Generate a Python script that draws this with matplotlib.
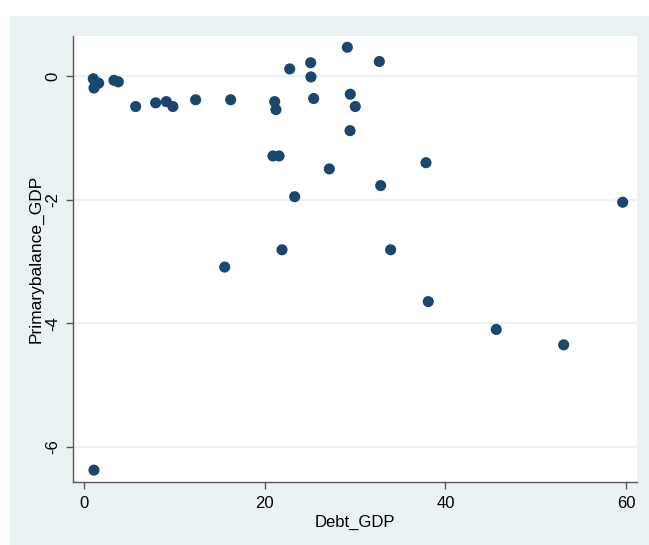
import numpy as np
import matplotlib
matplotlib.use("Agg")
import matplotlib.pyplot as plt
from matplotlib.patches import Rectangle

plt.rcParams['font.family'] = ['Liberation Sans', 'DejaVu Sans']
plt.rcParams['axes.unicode_minus'] = False

# values
debt_gdp = [1.06, 1.66, 1.14, 1.3, 3.35, 3.83, 5.75, 7.96, 9.14, 9.87,
            12.38, 16.25, 21.12, 21.26, 22.78, 25.1, 25.13, 25.43, 29.15, 29.48,
            30.03, 29.45, 20.93, 21.6, 27.16, 23.33, 32.69, 37.85, 32.84, 21.93,
            33.94, 15.59, 38.1, 45.62, 53.07, 59.6, 1.14]
primary_balance = [-0.04, -0.11, -0.19, -0.1, -0.065, -0.09, -0.49, -0.43, -0.41, -0.49,
                   -0.38, -0.38, -0.41, -0.54, 0.12, 0.22, -0.01, -0.36, 0.47, -0.29,
                   -0.49, -0.88, -1.29, -1.29, -1.50, -1.95, 0.24, -1.40, -1.77, -2.81,
                   -2.81, -3.09, -3.65, -4.10, -4.35, -2.04, -6.38]
x_ticks = [0, 20, 40, 60]
y_ticks = [0, -2, -4, -6]

panel = '#eaf2f3'
navy = '#1a476f'

fig = plt.figure(figsize=(6.49, 5.45), dpi=100)
fig.patch.set_facecolor('white')
fig.add_artist(Rectangle((10/649, 0), 1 - 10/649, 1 - 16/545,
                         transform=fig.transFigure, color=panel, zorder=-5))

ax = fig.add_axes([73/649, 63/545, 564/649, 446/545])
ax.set_zorder(2)
ax.set_facecolor('white')
ax.scatter(debt_gdp, primary_balance, s=64, color=navy, edgecolors='none', zorder=3)

ax.set_xlim(-1.18, 61.18)
ax.set_ylim(-6.572, 0.653)
ax.set_xticks(x_ticks)
ax.set_yticks(y_ticks)
for t in y_ticks:
    ax.axhline(t, color=panel, lw=1.6, zorder=1)

for s in ['top', 'right']:
    ax.spines[s].set_visible(False)
for s in ['left', 'bottom']:
    ax.spines[s].set_color('#555555')
    ax.spines[s].set_linewidth(1.0)

ax.tick_params(direction='out', length=5, width=1, color='#555555',
               labelsize=12)
ax.tick_params(axis='x', pad=5)
ax.tick_params(axis='y', pad=4)
for lab in ax.get_yticklabels():
    lab.set_rotation(90)
    lab.set_va('center')

ax.set_xlabel('Debt_GDP', fontsize=12, labelpad=3)
ax.set_ylabel('Primarybalance_GDP', fontsize=12.5, labelpad=1)

fig.savefig('out.png', dpi=100)
